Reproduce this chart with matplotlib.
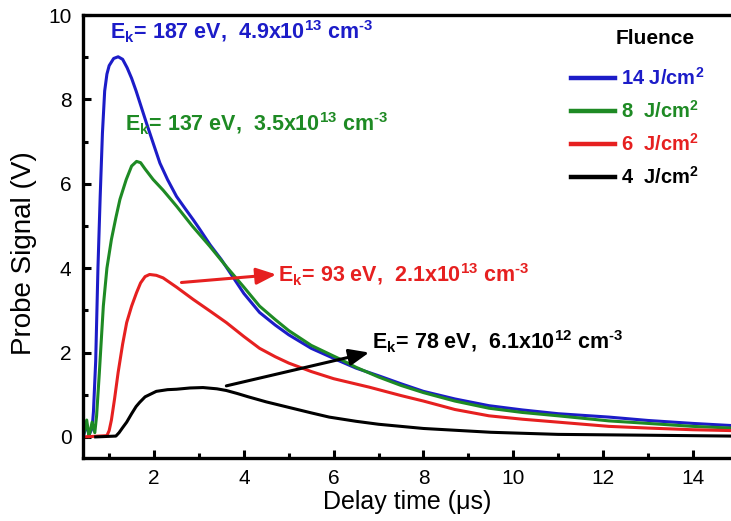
import matplotlib

matplotlib.use("Agg")
import matplotlib.pyplot as plt
from matplotlib.ticker import MultipleLocator

plt.rcParams["font.family"] = ["Liberation Sans", "DejaVu Sans"]
plt.rcParams["mathtext.fontset"] = "custom"
plt.rcParams["mathtext.rm"] = "Liberation Sans:bold"
plt.rcParams["mathtext.bf"] = "Liberation Sans:bold"
plt.rcParams["mathtext.it"] = "Liberation Sans:bold"
plt.rcParams["mathtext.default"] = "bf"

# Probe signal traces (delay time in us, signal in V)
t_14 = [0.42, 0.50, 0.55, 0.62, 0.65, 0.70, 0.75, 0.80, 0.85, 0.90, 0.95, 1.00, 1.10, 1.20, 1.30,
        1.40, 1.50, 1.60, 1.83, 2.00, 2.13, 2.30, 2.50, 2.70, 2.87, 3.00, 3.25, 3.50, 3.75, 4.00,
        4.35, 4.70, 5.00, 5.50, 6.13, 6.50, 7.00, 7.50, 8.00, 8.70, 9.46, 10.2, 11.0, 12.13, 13.0,
        14.0, 14.85]
v_14 = [0.00, 0.30, 0.05, 0.20, 0.60, 1.80, 4.00, 5.70, 7.20, 8.20, 8.60, 8.80, 8.97, 9.01, 8.95,
        8.75, 8.50, 8.20, 7.44, 6.90, 6.49, 6.10, 5.70, 5.40, 5.15, 4.95, 4.55, 4.20, 3.80, 3.40,
        2.95, 2.65, 2.42, 2.10, 1.80, 1.63, 1.45, 1.26, 1.08, 0.90, 0.74, 0.64, 0.55, 0.47, 0.39,
        0.32, 0.27]

t_8 = [0.42, 0.50, 0.55, 0.62, 0.68, 0.72, 0.78, 0.87, 0.95, 1.05, 1.15, 1.24, 1.38, 1.50, 1.61,
       1.70, 1.80, 1.98, 2.20, 2.50, 2.85, 3.24, 3.60, 4.00, 4.35, 4.70, 5.00, 5.50, 6.13, 6.50,
       7.00, 7.50, 8.00, 8.70, 9.46, 10.2, 11.0, 12.13, 13.0, 14.0, 14.85]
v_8 = [0.00, 0.40, 0.00, 0.35, 0.10, 0.50, 1.50, 3.10, 4.00, 4.68, 5.20, 5.63, 6.10, 6.42, 6.53,
       6.50, 6.35, 6.10, 5.85, 5.47, 5.00, 4.52, 4.05, 3.55, 3.10, 2.78, 2.52, 2.17, 1.85, 1.65,
       1.42, 1.22, 1.05, 0.85, 0.68, 0.58, 0.50, 0.38, 0.32, 0.25, 0.21]

t_6 = [0.42, 0.95, 1.00, 1.05, 1.12, 1.20, 1.30, 1.39, 1.50, 1.61, 1.70, 1.80, 1.90, 2.05, 2.20,
       2.50, 2.87, 3.25, 3.61, 4.00, 4.35, 4.70, 5.00, 5.50, 6.00, 6.79, 7.50, 8.00, 8.70, 9.46,
       10.2, 11.0, 12.13, 13.0, 14.0, 14.85]
v_6 = [0.00, 0.03, 0.15, 0.40, 0.90, 1.53, 2.20, 2.71, 3.10, 3.42, 3.65, 3.80, 3.85, 3.83, 3.77,
       3.55, 3.26, 2.98, 2.71, 2.38, 2.10, 1.90, 1.75, 1.55, 1.38, 1.18, 0.98, 0.85, 0.65, 0.50,
       0.42, 0.35, 0.25, 0.21, 0.17, 0.15]

t_4 = [0.70, 1.15, 1.22, 1.30, 1.39, 1.50, 1.60, 1.68, 1.80, 2.05, 2.30, 2.50, 2.80, 3.09, 3.40,
       3.61, 3.85, 4.10, 4.50, 5.00, 5.50, 5.90, 6.50, 7.00, 8.00, 9.50, 11.0, 13.0, 14.85]
v_4 = [0.00, 0.02, 0.10, 0.22, 0.35, 0.55, 0.72, 0.82, 0.95, 1.08, 1.12, 1.13, 1.16, 1.17, 1.14,
       1.10, 1.03, 0.95, 0.83, 0.70, 0.57, 0.47, 0.37, 0.30, 0.20, 0.11, 0.06, 0.04, 0.02]

labels = ["14 J/cm$^2$", "8  J/cm$^2$", "6  J/cm$^2$", "4  J/cm$^2$"]
colors = ["#1c1cc8", "#1e8a24", "#e62020", "#000000"]

fig = plt.figure(figsize=(7.31, 5.21), dpi=100)
ax = fig.add_axes([0.1131, 0.1209, 0.8869, 0.8503])

for t, v, lab, col in zip([t_14, t_8, t_6, t_4], [v_14, v_8, v_6, v_4], labels, colors):
    ax.plot(t, v, color=col, lw=2.2, label=lab)

ax.set_xlim(0.41, 14.85)
ax.set_ylim(-0.5, 10)
ax.xaxis.set_major_locator(MultipleLocator(2))
ax.xaxis.set_minor_locator(MultipleLocator(1))
ax.yaxis.set_major_locator(MultipleLocator(2))
ax.yaxis.set_minor_locator(MultipleLocator(1))
ax.tick_params(which="major", direction="in", length=6, width=2.2, labelsize=15, pad=8)
ax.tick_params(which="minor", direction="in", length=3.5, width=2.2)
for side in ["left", "bottom", "top"]:
    ax.spines[side].set_linewidth(2.4)
ax.spines["right"].set_visible(False)

ax.set_xlabel("Delay time (\u03bcs)", fontsize=18, labelpad=1)
ax.set_ylabel("Probe Signal (V)", fontsize=20)
ax.yaxis.set_label_coords(-0.07, 0.463)

# Annotations
ax.text(1.02, 9.41, r"E$_k$= 187 eV,  4.9x10$^{13}$ cm$^{\text{-}3}$", color=colors[0],
        fontsize=15.5, fontweight="bold", va="baseline", ha="left")
ax.text(1.35, 7.23, r"E$_k$= 137 eV,  3.5x10$^{13}$ cm$^{\text{-}3}$", color=colors[1],
        fontsize=15.5, fontweight="bold", va="baseline", ha="left")
ax.text(4.77, 3.66, r"E$_k$= 93 eV,  2.1x10$^{13}$ cm$^{\text{-}3}$", color=colors[2],
        fontsize=15.5, fontweight="bold", va="baseline", ha="left")
ax.text(6.85, 2.08, r"E$_k$= 78 eV,  6.1x10$^{12}$ cm$^{\text{-}3}$", color=colors[3],
        fontsize=15.5, fontweight="bold", va="baseline", ha="left")

arrow_style = dict(arrowstyle="-|>,head_length=1.2,head_width=0.5", lw=2.2, shrinkA=0, shrinkB=0)
ax.annotate("", xy=(4.72, 3.85), xytext=(2.61, 3.66),
            arrowprops=dict(color=colors[2], **arrow_style))
ax.annotate("", xy=(6.79, 2.00), xytext=(3.61, 1.21),
            arrowprops=dict(color=colors[3], **arrow_style))

ax.text(0.883, 0.948, "Fluence", transform=ax.transAxes, fontsize=15, fontweight="bold",
        ha="center", va="center")
leg = ax.legend(loc="upper right", bbox_to_anchor=(0.975, 0.905), frameon=False,
                prop={"weight": "bold", "size": 14.5}, labelcolor="linecolor", handlelength=2.2,
                handletextpad=0.3, labelspacing=0.55, borderpad=0)
for line in leg.get_lines():
    line.set_linewidth(3.2)

fig.savefig("out.png", dpi=100)
